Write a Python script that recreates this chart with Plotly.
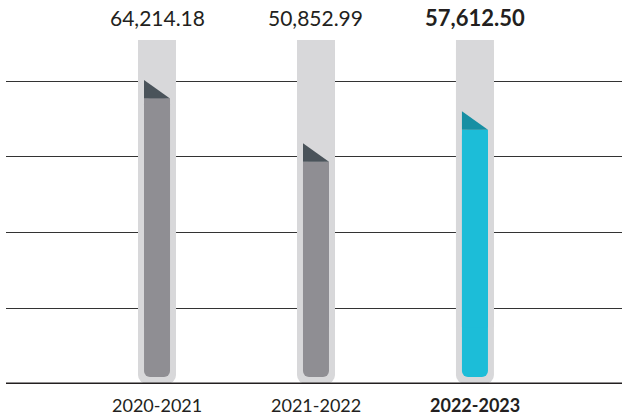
import plotly.graph_objects as go

# ---- data ----
categories = ["2020-2021", "2021-2022", "2022-2023"]
values = [64214.18, 50852.99, 57612.50]
value_labels = ["64,214.18", "50,852.99", "57,612.50"]
gridlines = [16000, 32000, 48000, 64000]

# ---- style ----
Y_MAX = 72660          # top of the plot / tube
FOLD = 3900            # height of the folded corner
INNER_BASE = 1480      # gap between baseline and inner bar bottom
SQUARE_FROM = 12000    # above this level corners are square
TUBE_W = 0.239
BAR_W = 0.1635
tube_color = "#d8d8da"
body_colors = ["#8f8e93", "#8f8e93", "#1cbdd8"]
fold_colors = ["#4a535a", "#4a535a", "#178fa3"]
text_color = "#231f20"
FONT = "Lato"

xs = list(range(len(categories)))
n = len(xs)
fig = go.Figure()


def bar(y, base, width, color, radius):
    fig.add_trace(go.Bar(
        x=xs, y=y, base=base, width=width,
        marker=dict(color=color, line=dict(width=0), cornerradius=radius),
        hoverinfo="skip", showlegend=False))


# tubes: rounded piece + square top piece
bar([Y_MAX] * n, [0] * n, TUBE_W, tube_color, 9)
bar([Y_MAX - SQUARE_FROM] * n, [SQUARE_FROM] * n, TUBE_W, tube_color, 0)

# inner bars: rounded piece + square top piece
bar([v - FOLD - INNER_BASE for v in values], [INNER_BASE] * n, BAR_W, body_colors, 6)
bar([v - FOLD - SQUARE_FROM for v in values], [SQUARE_FROM] * n, BAR_W, body_colors, 0)

# folded corners
for i, v in enumerate(values):
    x0, x1 = xs[i] - BAR_W / 2, xs[i] + BAR_W / 2
    fig.add_trace(go.Scatter(
        x=[x0, x0, x1, x0], y=[v, v - FOLD, v - FOLD, v],
        mode="lines", fill="toself", fillcolor=fold_colors[i],
        line=dict(width=0, color=fold_colors[i]),
        hoverinfo="skip", showlegend=False))

annotations = []
for i, (c, lab) in enumerate(zip(categories, value_labels)):
    bold = i == n - 1
    annotations.append(dict(
        x=xs[i], xref="x", y=1 + 23 / 344, yref="paper", yanchor="middle",
        text=f"<b>{lab}</b>" if bold else lab, showarrow=False,
        font=dict(family=FONT, size=22 if bold else 21, color=text_color)))
    annotations.append(dict(
        x=xs[i], xref="x", y=-21 / 344, yref="paper", yanchor="middle",
        text=f"<b>{c}</b>" if bold else c, showarrow=False,
        font=dict(family=FONT, size=18, color=text_color)))

fig.update_layout(
    width=622, height=418,
    margin=dict(l=6, r=0, t=40, b=34),
    paper_bgcolor="white", plot_bgcolor="white",
    barmode="overlay",
    xaxis=dict(range=[-0.95, 2.925], showgrid=False, zeroline=False,
               showticklabels=False, ticks="", fixedrange=True),
    yaxis=dict(range=[0, Y_MAX], tickvals=gridlines, showgrid=True,
               gridcolor="#333333", gridwidth=1, zeroline=False,
               showticklabels=False, ticks="", fixedrange=True),
    annotations=annotations,
    shapes=[dict(type="line", xref="paper", yref="y", x0=0, x1=1, y0=0, y1=0,
                 line=dict(color="#231f20", width=3), layer="above")],
)

fig.write_html("out.html")
